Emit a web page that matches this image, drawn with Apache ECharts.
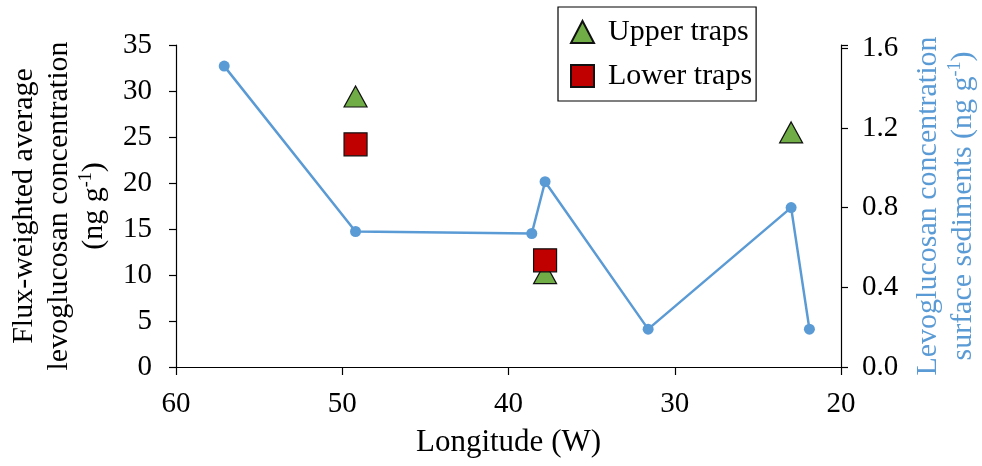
<!DOCTYPE html>
<html>
<head>
<meta charset="utf-8">
<script src="https://cdn.jsdelivr.net/npm/echarts@6/dist/echarts.min.js"></script>
<style>html,body{margin:0;padding:0;background:#fff}#c{width:982px;height:466px}</style>
</head>
<body>
<div id="c"></div>
<script>
// Surface sediments (right axis)
const sedLon = [57.1, 49.2, 38.6, 37.8, 31.6, 23.0, 21.9];
const sedVal = [1.51, 0.68, 0.67, 0.93, 0.19, 0.80, 0.19];
// Upper traps (left axis)
const upperLon = [49.2, 37.8, 23.0];
const upperVal = [29.4, 10.2, 25.5];
// Lower traps (left axis)
const lowerLon = [49.2, 37.8];
const lowerVal = [24.2, 11.6];

const FONT = '"Liberation Serif", "Times New Roman", serif';
const zip = (a, b) => a.map((v, i) => [v, b[i]]);

const chart = echarts.init(document.getElementById('c'), null, {renderer: 'canvas'});
chart.setOption({
  animation: false,
  backgroundColor: '#fff',
  textStyle: {fontFamily: FONT},
  grid: {left: 176, right: 141, top: 45, bottom: 99, outerBoundsMode: 'none', containLabel: false},
  legend: {
    orient: 'vertical',
    left: 558, top: 7,
    padding: [10, 4, 10, 12],
    borderColor: '#000', borderWidth: 1.2,
    itemWidth: 23, itemHeight: 22, itemGap: 14,
    data: ['Upper traps', 'Lower traps'],
    textStyle: {fontFamily: FONT, fontSize: 30, color: '#000', lineHeight: 30, padding: [0, 0, 0, 9]}
  },
  xAxis: {
    type: 'value', min: 20, max: 60, interval: 10, inverse: true,
    name: 'Longitude (W)', nameLocation: 'middle', nameGap: 60,
    nameTextStyle: {fontFamily: FONT, fontSize: 31, color: '#000'},
    axisLine: {lineStyle: {color: '#000', width: 1.2}},
    axisTick: {inside: false, length: 8, lineStyle: {color: '#000', width: 1.2}},
    axisLabel: {fontFamily: FONT, fontSize: 29, color: '#000', margin: 23},
    splitLine: {show: false}
  },
  yAxis: [{
    type: 'value', min: 0, max: 35, interval: 5, position: 'left',
    name: 'Flux-weighted average\nlevoglucosan concentration\n(ng g{sup|-1})',
    nameLocation: 'middle', nameRotate: 90, nameGap: 61,
    nameTextStyle: {fontFamily: FONT, fontSize: 30, color: '#000', lineHeight: 35,
      rich: {sup: {fontFamily: FONT, fontSize: 18, color: '#000', verticalAlign: 'top', lineHeight: 35, padding: [0, 0, 10, 0]}}},
    axisLine: {show: true, lineStyle: {color: '#000', width: 1.2}},
    axisTick: {show: true, length: 7, lineStyle: {color: '#000', width: 1.2}},
    axisLabel: {fontFamily: FONT, fontSize: 29, color: '#000', margin: 24},
    splitLine: {show: false}
  }, {
    type: 'value', min: 0, max: 1.616, interval: 0.4, position: 'right',
    name: 'Levoglucosan concentration\nsurface sediments (ng g{sup|-1})',
    nameLocation: 'middle', nameRotate: 90, nameGap: 70,
    nameTextStyle: {fontFamily: FONT, fontSize: 30, color: '#5B9BD5', lineHeight: 35,
      rich: {sup: {fontFamily: FONT, fontSize: 18, color: '#5B9BD5', verticalAlign: 'top', lineHeight: 35, padding: [0, 0, 10, 0]}}},
    axisLine: {show: true, lineStyle: {color: '#000', width: 1.2}},
    axisTick: {show: true, length: 7, lineStyle: {color: '#000', width: 1.2}},
    axisLabel: {fontFamily: FONT, fontSize: 29, color: '#000', margin: 21,
      formatter: v => (v <= 1.6 + 1e-9 ? v.toFixed(1) : '')},
    splitLine: {show: false}
  }],
  series: [{
    name: 'Surface sediments', type: 'line', yAxisIndex: 1,
    data: zip(sedLon, sedVal),
    symbol: 'circle', symbolSize: 11,
    lineStyle: {color: '#5B9BD5', width: 2.5},
    itemStyle: {color: '#5B9BD5'},
    z: 2
  }, {
    name: 'Upper traps', type: 'scatter', yAxisIndex: 0,
    data: zip(upperLon, upperVal),
    symbol: 'triangle', symbolSize: [23, 21],
    itemStyle: {color: '#70AD47', borderColor: '#111', borderWidth: 1.2, opacity: 1},
    z: 3
  }, {
    name: 'Lower traps', type: 'scatter', yAxisIndex: 0,
    data: zip(lowerLon, lowerVal),
    symbol: 'rect', symbolSize: 23,
    itemStyle: {color: '#C00000', borderColor: '#111', borderWidth: 1.2, opacity: 1},
    z: 4
  }]
});
</script>
</body>
</html>
